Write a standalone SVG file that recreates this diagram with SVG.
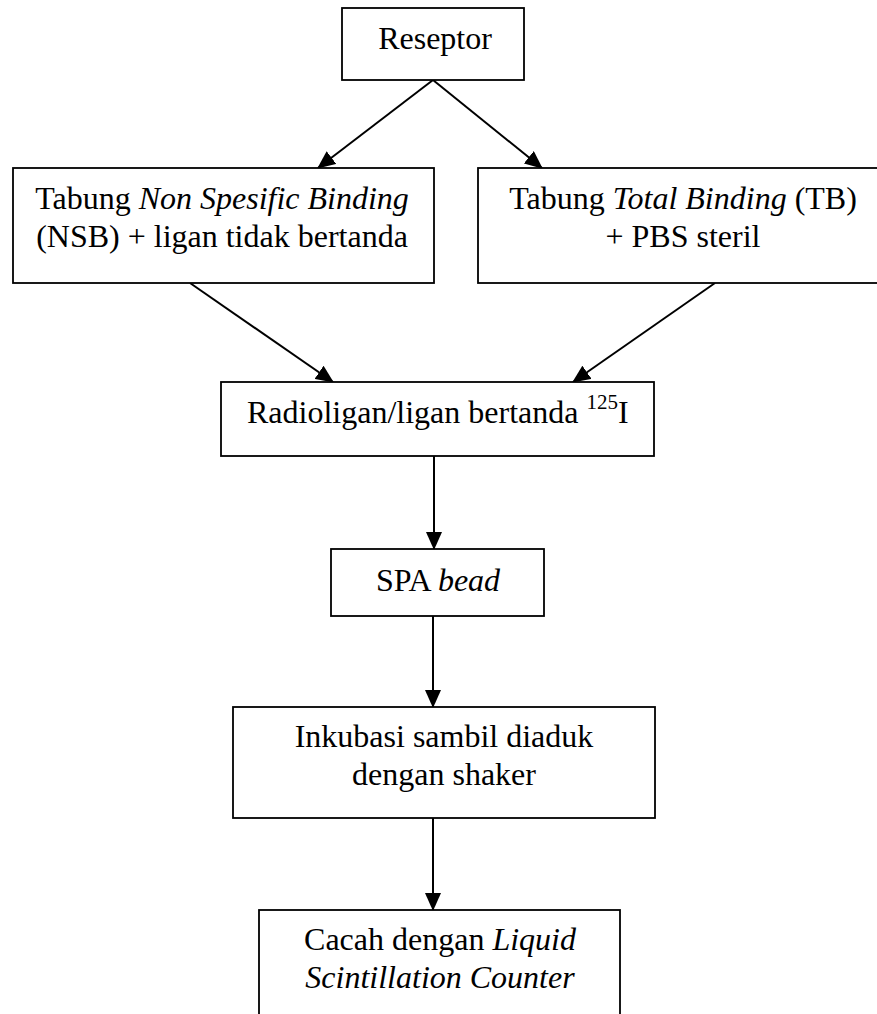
<svg xmlns="http://www.w3.org/2000/svg" width="877" height="1014" viewBox="0 0 877 1014">
<style>
.box{fill:#fff;stroke:#000;stroke-width:1.8}
.t{font-family:"Liberation Serif","Times New Roman",serif;font-size:32px;fill:#000;text-anchor:middle}
.i{font-style:italic}
.c{stroke:#000;stroke-width:2;fill:none;marker-end:url(#ah)}
</style>
<defs>
<marker id="ah" markerUnits="userSpaceOnUse" markerWidth="18" markerHeight="16" viewBox="0 0 18 16" refX="17" refY="8" orient="auto">
<path d="M0,0 L18,8 L0,16 Z" fill="#000"/>
</marker>
</defs>
<rect width="877" height="1014" fill="#fff"/>
<g id="connectors">
<line class="c" x1="433" y1="80" x2="318" y2="168"/>
<line class="c" x1="433" y1="80" x2="542" y2="168"/>
<line class="c" x1="190" y1="283" x2="333" y2="382"/>
<line class="c" x1="715" y1="283" x2="573" y2="382"/>
<line class="c" x1="434" y1="456" x2="434" y2="549"/>
<line class="c" x1="433" y1="616" x2="433" y2="707"/>
<line class="c" x1="433" y1="818" x2="433" y2="910"/>
</g>
<g id="reseptor">
<rect class="box" x="342" y="8" width="182" height="72"/>
<text class="t" x="435" y="49">Reseptor</text>
</g>
<g id="nsb">
<rect class="box" x="13" y="168" width="421" height="115"/>
<text class="t" x="222" y="209">Tabung <tspan class="i">Non Spesific Binding</tspan></text>
<text class="t" x="222" y="247">(NSB) + ligan tidak bertanda</text>
</g>
<g id="tb">
<rect class="box" x="478" y="168" width="410" height="115"/>
<text class="t" x="683" y="209">Tabung <tspan class="i">Total Binding</tspan> (TB)</text>
<text class="t" x="683" y="247">+ PBS steril</text>
</g>
<g id="radioligan">
<rect class="box" x="221" y="382" width="433" height="74"/>
<text class="t" x="247" y="423" style="text-anchor:start">Radioligan/ligan bertanda <tspan font-size="21" dy="-14">125</tspan><tspan dy="14">I</tspan></text>
</g>
<g id="spa">
<rect class="box" x="331" y="549" width="213" height="67"/>
<text class="t" x="438" y="591">SPA <tspan class="i">bead</tspan></text>
</g>
<g id="inkubasi">
<rect class="box" x="233" y="707" width="422" height="111"/>
<text class="t" x="444" y="747">Inkubasi sambil diaduk</text>
<text class="t" x="444" y="785">dengan shaker</text>
</g>
<g id="cacah">
<rect class="box" x="259" y="910" width="361" height="120"/>
<text class="t" x="440" y="950">Cacah dengan <tspan class="i">Liquid</tspan></text>
<text class="t" x="440" y="988"><tspan class="i">Scintillation Counter</tspan></text>
</g>
</svg>
